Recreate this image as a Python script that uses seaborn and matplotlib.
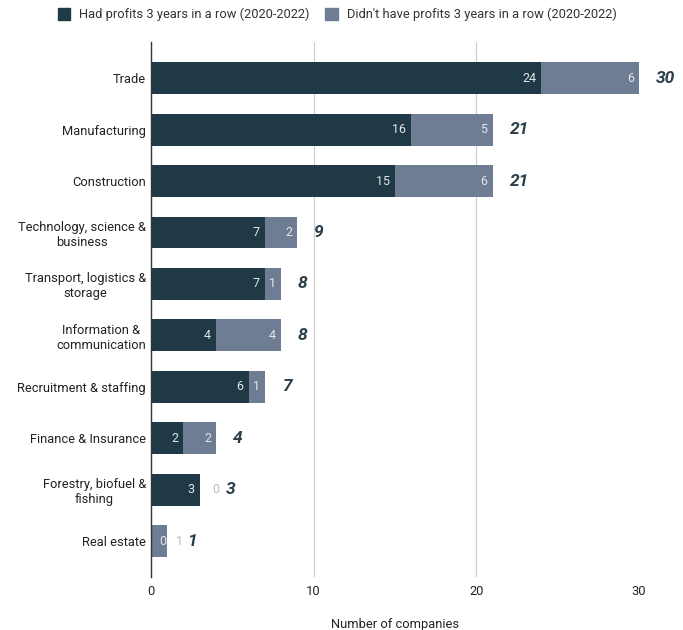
import pandas as pd
import seaborn as sns
from matplotlib import pyplot as plt
from matplotlib.patches import Patch

# data
sectors = ['Trade', 'Manufacturing', 'Construction', 'Technology, science &\nbusiness',
           'Transport, logistics &\nstorage', 'Information &\ncommunication',
           'Recruitment & staffing', 'Finance & Insurance', 'Forestry, biofuel &\nfishing',
           'Real estate']
had_profits = [24, 16, 15, 7, 7, 4, 6, 2, 3, 0]
no_profits = [6, 5, 6, 2, 1, 4, 1, 2, 0, 1]

dark = '#1f3a46'
grey = '#6e7d93'

df = pd.DataFrame({'sector': sectors, 'had': had_profits, 'no': no_profits})
df['total'] = df['had'] + df['no']

sns.set_style('white')
plt.rcParams['font.family'] = ['Roboto', 'DejaVu Sans']

fig = plt.figure(figsize=(6.83, 6.30), dpi=100)
ax = fig.add_axes([0.221, 0.084, 0.7145, 0.849])

#stacked bars: total in grey underneath, dark part on top
sns.barplot(data=df, y='sector', x='total', color=grey, width=0.62, ax=ax, saturation=1, linewidth=0)
sns.barplot(data=df, y='sector', x='had', color=dark, width=0.62, ax=ax, saturation=1, linewidth=0)

ax.set_xlim(0, 30)
ax.set_ylim(9.7, -0.7)
ax.set_xticks([0, 10, 20, 30])
ax.grid(axis='x', color='#cccccc', linewidth=0.8)
ax.set_axisbelow(True)
for s in ['top', 'right', 'bottom']:
    ax.spines[s].set_visible(False)
ax.spines['left'].set_color('#333333')
ax.spines['left'].set_linewidth(1)
ax.tick_params(axis='both', length=0, labelsize=9.3, colors='#222222')
ax.tick_params(axis='x', pad=6)
for lab in ax.get_yticklabels():
    lab.set_multialignment('center')
ax.set_ylabel('')
ax.set_xlabel('Number of companies', fontsize=9.3, color='#222222', labelpad=14)

#segment labels and totals
for i, row in df.iterrows():
    extra = 0
    # dark segment label
    if row['had'] >= 1.5:
        ax.annotate(str(row['had']), (row['had'], i), xytext=(-5, 0), textcoords='offset pixels',
                    ha='right', va='center', fontsize=9, color='#e6e6e6')
    else:
        ax.annotate(str(row['had']), (row['had'], i), xytext=(12, 0), textcoords='offset pixels',
                    ha='center', va='center', fontsize=9, color='#e6e6e6')
    # grey segment label
    if row['no'] >= 1:
        if row['had'] >= 1.5:
            ax.annotate(str(row['no']), (row['total'], i), xytext=(-5, 0), textcoords='offset pixels',
                        ha='right', va='center', fontsize=9, color='#e6e6e6')
        else:
            ax.annotate(str(row['no']), (row['total'], i), xytext=(12, 0), textcoords='offset pixels',
                        ha='center', va='center', fontsize=9, color='#b8bec8')
            extra = 3
    else:
        ax.annotate(str(row['no']), (row['total'], i), xytext=(16, 0), textcoords='offset pixels',
                    ha='center', va='center', fontsize=9, color='#b8bec8')
        extra = 9
    ax.annotate(str(row['total']), (row['total'], i), xytext=(17 + extra, 0), textcoords='offset pixels',
                ha='left', va='center', fontsize=12.5, fontweight='bold', fontstyle='italic',
                color='#2b3f4a', annotation_clip=False)

handles = [Patch(facecolor=dark, edgecolor=dark),
           Patch(facecolor=grey, edgecolor=grey)]
fig.legend(handles, ['Had profits 3 years in a row (2020-2022)',
                     "Didn't have profits 3 years in a row (2020-2022)"],
           loc='upper center', bbox_to_anchor=(0.494, 1.006), ncol=2, frameon=False,
           fontsize=9.3, handlelength=1.0, handleheight=1.0, columnspacing=1.2,
           handletextpad=0.7, labelcolor='#333333')

fig.savefig('out.png', dpi=100)
